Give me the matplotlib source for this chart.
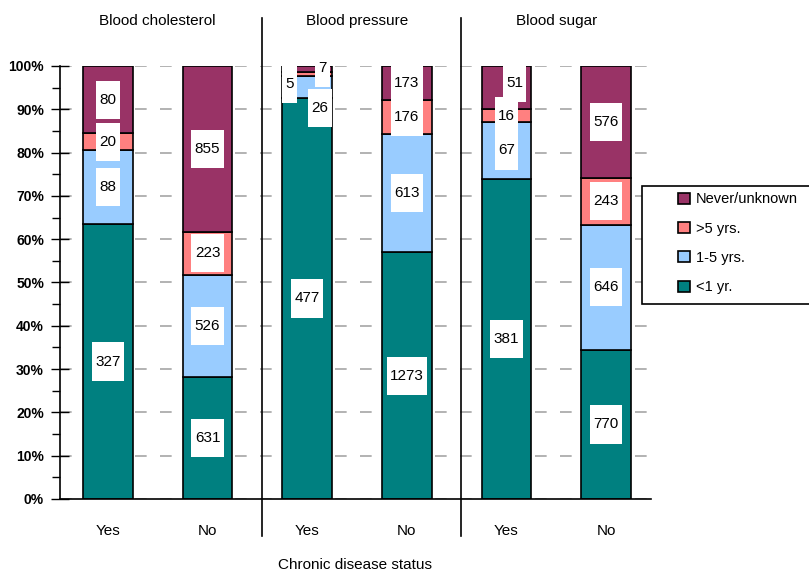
import matplotlib
matplotlib.use("Agg")
import matplotlib.pyplot as plt
from matplotlib.path import Path
from matplotlib.ticker import MultipleLocator, PercentFormatter
from matplotlib.patches import Patch, Rectangle
from matplotlib.lines import Line2D

plt.rcParams["font.family"] = ["Liberation Sans", "DejaVu Sans"]

# ---- data -------------------------------------------------------------
groups = ["Blood cholesterol", "Blood pressure", "Blood sugar"]
statuses = ["Yes", "No"]
series = ["<1 yr.", "1-5 yrs.", ">5 yrs.", "Never/unknown"]

lt1_yr = [327, 631, 477, 1273, 381, 770]
yrs_1_5 = [88, 526, 26, 613, 67, 646]
gt5_yrs = [20, 223, 5, 176, 16, 243]
never_unknown = [80, 855, 7, 173, 51, 576]

colors = ["#008080", "#99CCFF", "#FF8080", "#993366"]

# label nudges (x in bar units, y in axis fraction) for crowded segments
nudges = {
    (2, 2): (-0.175, -0.023),
    (2, 3): (0.15, 0.002),
    (2, 1): (0.13, -0.048),
    (4, 3): (0.08, 0.011),
}

# ---- figure ------------------------------------------------------------
W, H = 809, 574
fig = plt.figure(figsize=(W / 100, H / 100), dpi=100)
ax_left, ax_right, ax_top, ax_bot = 60, 651, 66, 499
ax_h = ax_bot - ax_top
ax = fig.add_axes([ax_left / W, 1 - ax_bot / H,
                   (ax_right - ax_left) / W, ax_h / H])

values = [lt1_yr, yrs_1_5, gt5_yrs, never_unknown]
n_bars = len(lt1_yr)
totals = [sum(v[i] for v in values) for i in range(n_bars)]
xpos = list(range(n_bars))
bar_w = 0.5


def tall_box(x0, y0, width, height, mutation_size):
    padx = 0.22 * mutation_size
    h = 2.5 * mutation_size
    cy = y0 + height / 2
    return Path([(x0 - padx, cy - h / 2), (x0 + width + padx, cy - h / 2),
                 (x0 + width + padx, cy + h / 2), (x0 - padx, cy + h / 2),
                 (x0 - padx, cy - h / 2)], closed=True)


bottoms = [0.0] * n_bars
for s, (vals, col) in enumerate(zip(values, colors)):
    fracs = [v / t for v, t in zip(vals, totals)]
    ax.bar(xpos, fracs, width=bar_w, bottom=bottoms, color=col,
           edgecolor="black", linewidth=1.2, zorder=2)
    for i in range(n_bars):
        cx = xpos[i]
        cy = bottoms[i] + fracs[i] / 2
        dx, dy = nudges.get((i, s), (0, 0))
        ax.text(cx + dx, cy + dy, str(vals[i]), ha="center", va="center",
                fontsize=11, color="black", zorder=5,
                bbox=dict(boxstyle=tall_box, facecolor="white",
                          edgecolor="none"))
    bottoms = [b + f for b, f in zip(bottoms, fracs)]

# axes styling
ax.set_ylim(0, 1)
ax.set_xlim(-0.48, 5.45)
ax.yaxis.set_major_locator(MultipleLocator(0.1))
ax.yaxis.set_minor_locator(MultipleLocator(0.05))
ax.yaxis.set_major_formatter(PercentFormatter(1.0, decimals=0))
ax.tick_params(axis="y", which="major", direction="inout", length=13,
               width=1, labelsize=10, pad=5)
ax.tick_params(axis="y", which="minor", direction="out", length=6, width=1)
for lab in ax.get_yticklabels():
    lab.set_fontweight("bold")
ax.set_xticks(xpos)
ax.set_xticklabels(statuses * len(groups), fontsize=11)
ax.tick_params(axis="x", length=0, pad=18)
ax.set_xlabel("Chronic disease status", fontsize=11, va="center")
ax.xaxis.set_label_coords(0.5, (ax_bot - 565) / ax_h)

for sp in ["top", "right"]:
    ax.spines[sp].set_visible(False)
for sp in ["left", "bottom"]:
    ax.spines[sp].set_linewidth(1.2)

ax.grid(axis="y", which="major", linestyle=(0, (7, 8)), color="#a6a6a6",
        linewidth=1.2, zorder=0)
ax.set_axisbelow(True)

# group separators and titles
tr = ax.get_xaxis_transform()
for xs in [1.545, 3.54]:
    ax.add_line(Line2D([xs, xs], [-0.085, 1.11], transform=tr, color="black",
                       linewidth=1.2, clip_on=False, zorder=3))
for g, name in enumerate(groups):
    ax.text(2 * g + 0.5, 1.105, name, transform=tr, ha="center", va="center",
            fontsize=11)

# legend: frame drawn as its own box, entries placed inside it
fig.patches.append(Rectangle((642 / W, 1 - 304 / H), 175 / W, 118 / H,
                             transform=fig.transFigure, facecolor="white",
                             edgecolor="black", linewidth=1.2, zorder=1))
handles = [Patch(facecolor=c, edgecolor="black", linewidth=1.2)
           for c in colors[::-1]]
leg = fig.legend(handles, series[::-1], loc="upper left",
                 bbox_to_anchor=(674 / W, 1 - 188 / H),
                 frameon=False, fontsize=10.5,
                 handlelength=0.78, handleheight=0.78, handletextpad=0.4,
                 labelspacing=1.05, borderpad=0.3, borderaxespad=0)
leg.set_zorder(2)

fig.savefig("out.png", dpi=100)
